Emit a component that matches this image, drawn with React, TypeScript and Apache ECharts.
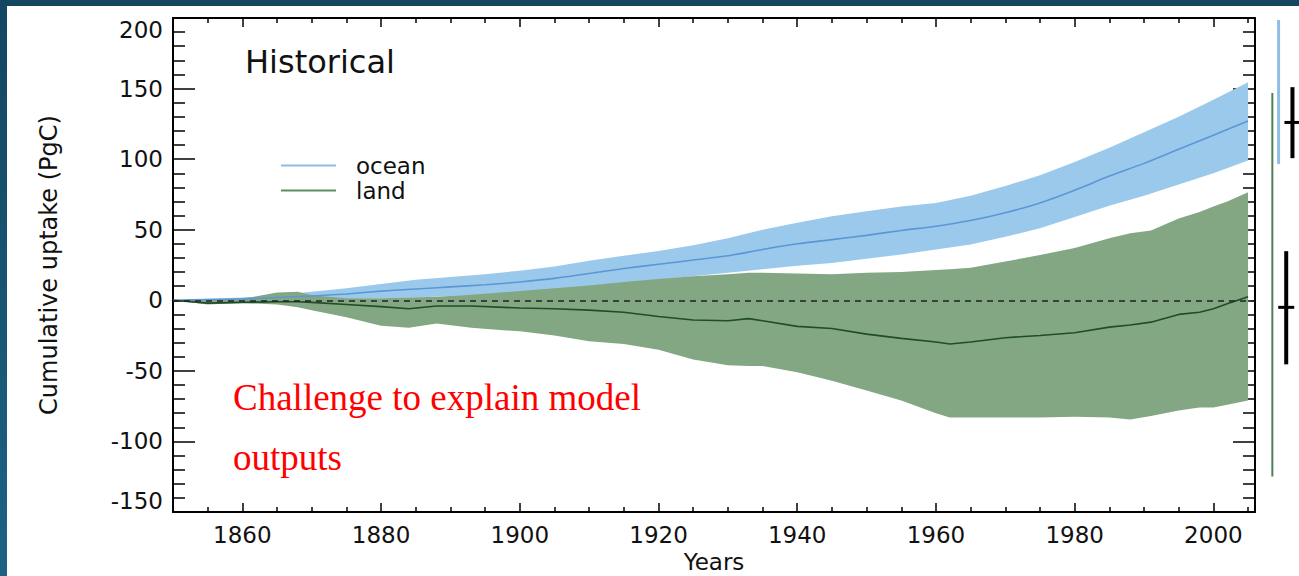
import React, { useEffect, useRef } from "react";
import * as echarts from "echarts";

// ---------- data ----------
const oceanYears = [1850, 1855, 1860, 1865, 1870, 1875, 1880, 1885, 1890, 1895, 1900, 1905, 1910, 1915, 1920, 1925, 1930, 1935, 1940, 1945, 1950, 1955, 1960, 1965, 1970, 1975, 1980, 1985, 1990, 1995, 2000, 2005];
const oceanMean = [0, 0.5, 1, 2, 3, 4.5, 6.5, 8, 9.5, 11, 13, 15.5, 19, 22.5, 25.5, 28.5, 31.5, 36, 40, 43, 46, 49.5, 52.5, 56.5, 62, 69, 78, 88, 97, 107, 117, 127];
const oceanUpper = [0, 1, 2, 3.5, 6, 8.5, 11.5, 14.5, 16.5, 18.5, 21, 24, 28, 31.5, 35, 39, 44, 50, 55, 59.5, 63, 66.5, 69, 74, 81, 88.5, 98, 108, 119, 130, 142, 154.5];
const oceanLower = [0, 0, 0, 0.5, 0.5, 1, 1.5, 2, 3, 4, 5.5, 7.5, 10, 12.5, 14.5, 17, 19.5, 22, 24.5, 26.5, 29.5, 32.5, 36, 39.5, 45, 51, 59, 67, 74, 82, 90, 99];

const landYears = [1850, 1855, 1860, 1865, 1868, 1870, 1875, 1880, 1884, 1888, 1893, 1900, 1905, 1910, 1915, 1920, 1925, 1930, 1933, 1935, 1940, 1945, 1950, 1955, 1960, 1962, 1965, 1970, 1975, 1980, 1985, 1988, 1991, 1995, 1998, 2000, 2002, 2005];
const landMean = [0, -2, -1.5, -1, -1, -1.5, -3, -4.5, -6, -4, -4, -5.5, -6, -7, -8.5, -11.5, -14, -14.5, -13, -14.5, -18.5, -20, -24, -27, -29.5, -31, -29.5, -26.5, -25, -23, -19, -17.5, -15.5, -10, -8.5, -6, -2.5, 2.5];
const landUpper = [0, 0, 1, 5.5, 6, 3.5, 1.5, 1.5, 2, 2.5, 4, 6.5, 8.5, 10.5, 13, 15, 17, 18.5, 19.5, 19.5, 19, 18.5, 19.5, 20, 21.5, 22, 23, 27.5, 32, 37, 44, 47.5, 49.5, 58, 62.5, 66.5, 70, 76.5];
const landLower = [0, -3, -2, -3, -5, -7, -12, -18, -19.5, -16.5, -19.5, -22, -25, -29, -31, -35, -42, -46, -46.5, -46.5, -51, -57, -64, -71, -80, -83, -83, -83, -83, -82.5, -83, -84.5, -82, -78, -76, -76, -74, -71];

// observational ranges shown to the right of the plot (x in years, y in PgC)
const rangeX = [2009.4, 2008.5];
const rangeLow = [96.5, -124.8];
const rangeHigh = [198.6, 146.8];
const errX = [2011.4, 2010.5];
const errLow = [100.7, -45.4];
const errMid = [126, -5];
const errHigh = [151, 34.8];

const xLabelTicks = [1860, 1880, 1900, 1920, 1940, 1960, 1980, 2000];
const xMinorTicks = [1855, 1865, 1870, 1875, 1885, 1890, 1895, 1905, 1910, 1915, 1925, 1930, 1935, 1945, 1950, 1955, 1965, 1970, 1975, 1985, 1990, 1995, 2005];

const FONT = "'DejaVu Sans', 'Liberation Sans', sans-serif";
const TXT = "#111";

export default function App() {
  const ref = useRef<HTMLDivElement>(null);

  useEffect(() => {
    if (!ref.current) return;
    const chart = echarts.init(ref.current, undefined, { renderer: "svg" });

    const band = (xs: number[], lo: number[], hi: number[], color: string) =>
      (params: any, api: any) => {
        if (params.dataIndex !== 0) return null;
        const pts: number[][] = [];
        for (let i = 0; i < xs.length; i++) pts.push(api.coord([xs[i], hi[i]]));
        for (let i = xs.length - 1; i >= 0; i--) pts.push(api.coord([xs[i], lo[i]]));
        return { type: "polygon", shape: { points: pts }, style: { fill: color } };
      };

    const rangeColors = ["#8fbde6", "#4f8055"];
    const rangeWidths = [3, 2];

    const baseX = {
      type: "value",
      min: 1850,
      max: 2006,
      splitLine: { show: false },
      axisLine: { onZero: false, show: false },
      axisLabel: { show: false },
    };

    const option: any = {
      animation: false,
      backgroundColor: "#fff",
      title: {
        text: "Historical",
        left: 245,
        top: 46,
        padding: 0,
        textStyle: { fontFamily: FONT, fontSize: 32, fontWeight: "normal", color: TXT },
      },
      legend: {
        orient: "vertical",
        left: 281,
        top: 154,
        padding: 0,
        itemGap: 2,
        itemWidth: 55,
        itemHeight: 2,
        textStyle: { fontFamily: FONT, fontSize: 23, lineHeight: 22, color: TXT, padding: [0, 0, 0, 15] },
        data: [
          { name: "ocean", icon: "rect", itemStyle: { color: "#8fbde6" } },
          { name: "land", icon: "rect", itemStyle: { color: "#5e8e63" } },
        ],
      },
      grid: { left: 173, right: 44, top: 18, bottom: 64, containLabel: false, outerBoundsMode: "none" },
      xAxis: [
        {
          ...baseX,
          position: "bottom",
          name: "Years",
          nameLocation: "middle",
          nameGap: 37,
          nameTextStyle: { fontFamily: FONT, fontSize: 23, color: TXT },
          axisLine: { onZero: false, show: true, lineStyle: { color: "#000", width: 2 } },
          axisTick: { show: true, inside: true, length: 9, customValues: xLabelTicks, lineStyle: { color: "#000", width: 1.5 } },
          axisLabel: {
            show: true,
            customValues: xLabelTicks,
            margin: 11,
            fontFamily: FONT,
            fontSize: 23,
            color: TXT,
            formatter: (v: number) => String(v),
          },
        },
        {
          ...baseX,
          position: "bottom",
          axisTick: { show: true, inside: true, length: 5, customValues: xMinorTicks, lineStyle: { color: "#000", width: 1.5 } },
        },
        {
          ...baseX,
          position: "top",
          axisLine: { onZero: false, show: true, lineStyle: { color: "#000", width: 2 } },
          axisTick: { show: true, inside: true, length: 9, customValues: xLabelTicks, lineStyle: { color: "#000", width: 1.5 } },
        },
        {
          ...baseX,
          position: "top",
          axisTick: { show: true, inside: true, length: 5, customValues: xMinorTicks, lineStyle: { color: "#000", width: 1.5 } },
        },
      ],
      yAxis: [
        {
          type: "value",
          position: "left",
          min: -150,
          max: 200,
          interval: 50,
          name: "Cumulative uptake (PgC)",
          nameLocation: "middle",
          nameGap: 112,
          nameTextStyle: { fontFamily: FONT, fontSize: 24, color: TXT },
          splitLine: { show: false },
          axisLine: { show: true, onZero: false, lineStyle: { color: "#000", width: 2 } },
          axisTick: { show: true, inside: true, length: 22, lineStyle: { color: "#000", width: 1.5 } },
          minorTick: { show: true, splitNumber: 5, length: 12, lineStyle: { color: "#000", width: 1.5 } },
          axisLabel: {
            margin: 10,
            fontFamily: FONT,
            fontSize: 23,
            color: TXT,
            verticalAlignMaxLabel: "top",
            verticalAlignMinLabel: "bottom",
          },
        },
        {
          type: "value",
          position: "right",
          min: -150,
          max: 200,
          interval: 50,
          splitLine: { show: false },
          axisLine: { show: true, onZero: false, lineStyle: { color: "#000", width: 2 } },
          axisTick: { show: true, inside: true, length: 22, lineStyle: { color: "#000", width: 1.5 } },
          minorTick: { show: true, splitNumber: 5, length: 12, lineStyle: { color: "#000", width: 1.5 } },
          axisLabel: { show: false },
        },
      ],
      series: [
        {
          name: "ocean band",
          type: "custom",
          xAxisIndex: 0,
          yAxisIndex: 0,
          encode: { x: 0, y: [1, 2] },
          data: oceanYears.map((y, i) => [y, oceanLower[i], oceanUpper[i]]),
          renderItem: band(oceanYears, oceanLower, oceanUpper, "#9bc9ec"),
          silent: true,
        },
        {
          name: "land band",
          type: "custom",
          xAxisIndex: 0,
          yAxisIndex: 0,
          encode: { x: 0, y: [1, 2] },
          data: landYears.map((y, i) => [y, landLower[i], landUpper[i]]),
          renderItem: band(landYears, landLower, landUpper, "#83a783"),
          silent: true,
        },
        {
          name: "ocean",
          type: "line",
          xAxisIndex: 0,
          yAxisIndex: 0,
          showSymbol: false,
          symbol: "none",
          smooth: 0.3,
          data: oceanYears.map((y, i) => [y, oceanMean[i]]),
          lineStyle: { color: "#5b97d4", width: 1.6 },
          itemStyle: { color: "#5b97d4" },
        },
        {
          name: "land",
          type: "line",
          xAxisIndex: 0,
          yAxisIndex: 0,
          showSymbol: false,
          symbol: "none",
          data: landYears.map((y, i) => [y, landMean[i]]),
          lineStyle: { color: "#1f4d26", width: 1.6 },
          itemStyle: { color: "#1f4d26" },
          markLine: {
            silent: true,
            symbol: ["none", "none"],
            label: { show: false },
            lineStyle: { color: "#222", width: 1.5, type: [6, 5] },
            data: [{ yAxis: 0 }],
          },
        },
        {
          name: "ranges",
          type: "custom",
          xAxisIndex: 0,
          yAxisIndex: 0,
          clip: false,
          encode: { x: 0, y: [1, 2] },
          data: rangeX.map((x, i) => [x, rangeLow[i], rangeHigh[i]]),
          renderItem: (params: any, api: any) => {
            const a = api.coord([api.value(0), api.value(1)]);
            const b = api.coord([api.value(0), api.value(2)]);
            return {
              type: "line",
              shape: { x1: a[0], y1: a[1], x2: b[0], y2: b[1] },
              style: { stroke: rangeColors[params.dataIndex], lineWidth: rangeWidths[params.dataIndex] },
            };
          },
          silent: true,
        },
        {
          name: "errors",
          type: "custom",
          xAxisIndex: 0,
          yAxisIndex: 0,
          clip: false,
          encode: { x: 0, y: [1, 3] },
          data: errX.map((x, i) => [x, errLow[i], errMid[i], errHigh[i]]),
          renderItem: (params: any, api: any) => {
            const lo = api.coord([api.value(0), api.value(1)]);
            const mid = api.coord([api.value(0), api.value(2)]);
            const hi = api.coord([api.value(0), api.value(3)]);
            return {
              type: "group",
              children: [
                { type: "line", shape: { x1: lo[0], y1: lo[1], x2: hi[0], y2: hi[1] }, style: { stroke: "#000", lineWidth: 4 } },
                { type: "line", shape: { x1: mid[0] - 8, y1: mid[1], x2: mid[0] + 8, y2: mid[1] }, style: { stroke: "#000", lineWidth: 3 } },
              ],
            };
          },
          silent: true,
        },
      ],
      graphic: [
        { type: "rect", shape: { x: 0, y: 0, width: 1299, height: 6 }, style: { fill: "#134660" }, silent: true },
        {
          type: "rect",
          shape: { x: 0, y: 0, width: 7, height: 576 },
          style: {
            fill: new echarts.graphic.LinearGradient(0, 0, 0, 1, [
              { offset: 0, color: "#134660" },
              { offset: 1, color: "#1d6285" },
            ]),
          },
          silent: true,
        },
        {
          type: "text",
          x: 233,
          y: 397,
          style: { text: "Challenge to explain model", font: "37px 'Liberation Serif', serif", fill: "#ff0000", align: "left", verticalAlign: "middle" },
          silent: true,
        },
        {
          type: "text",
          x: 233,
          y: 457,
          style: { text: "outputs", font: "37px 'Liberation Serif', serif", fill: "#ff0000", align: "left", verticalAlign: "middle" },
          silent: true,
        },
      ],
    };

    chart.setOption(option);
    return () => chart.dispose();
  }, []);

  return (
    <div
      ref={ref}
      style={{ position: "fixed", left: 0, top: 0, width: 1299, height: 576, background: "#fff" }}
    />
  );
}
